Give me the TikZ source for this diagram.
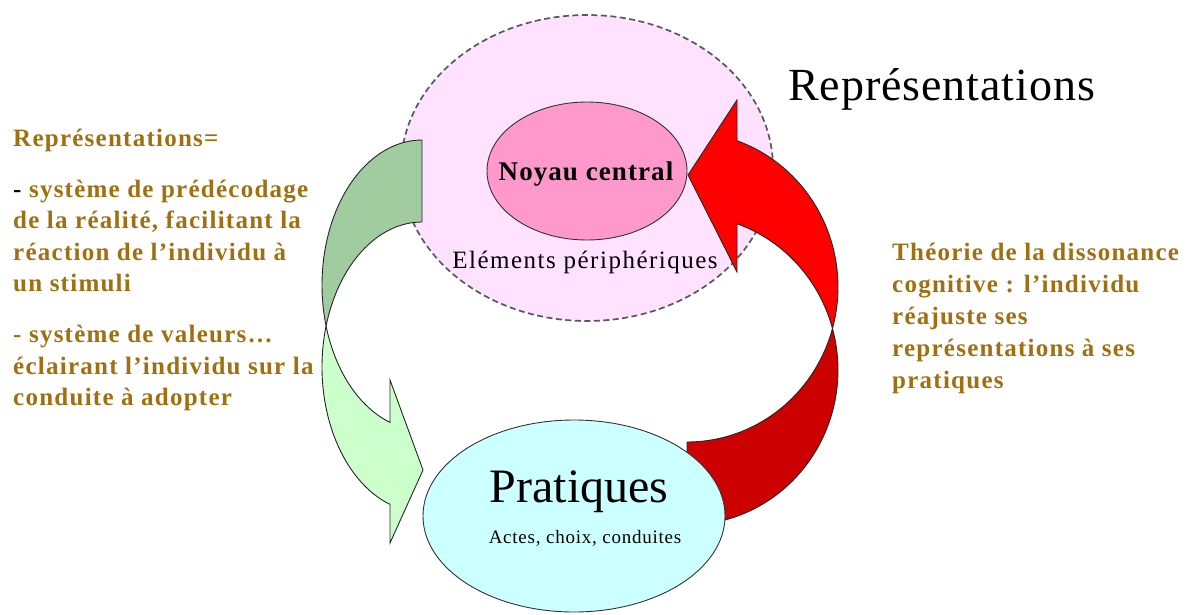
\documentclass[tikz,border=0pt]{standalone}
\usepackage{fontspec}
\setmainfont{Liberation Serif}
\usetikzlibrary{shapes.geometric}
\definecolor{pinkbg}{RGB}{255,226,255}
\definecolor{noyaupink}{RGB}{255,153,204}
\definecolor{cyanbg}{RGB}{204,255,255}
\definecolor{gdark}{RGB}{160,204,160}
\definecolor{glight}{RGB}{204,255,204}
\definecolor{rbright}{RGB}{255,0,0}
\definecolor{rdark}{RGB}{204,0,0}
\definecolor{txtbrown}{RGB}{160,112,16}
\tikzset{
  btxt/.style={anchor=base west, inner sep=0pt, text=txtbrown,
    font=\fontsize{25}{30}\selectfont\bfseries\addfontfeature{LetterSpace=5}},
  arrowshape/.style={draw=black!85, line width=0.9pt, line join=miter},
  ctxt/.style={anchor=base, inner sep=0pt},
}
\begin{document}
\begin{tikzpicture}[x=1pt,y=-1pt]
\useasboundingbox (0,0) rectangle (1186,614);
\fill[white] (0,0) rectangle (1186,614);

% Representations ellipse
\node[ellipse, minimum width=372pt, minimum height=306pt, fill=pinkbg,
  draw=black!65, line width=1.7pt, dash pattern=on 6pt off 3.5pt] (rep) at (587,168) {};
\node[ellipse, minimum width=200pt, minimum height=138pt, fill=noyaupink,
  draw=black!80, line width=0.9pt] (noyau) at (587,171) {};
\node[ctxt, font=\fontsize{27}{30}\selectfont\bfseries\addfontfeature{LetterSpace=4}] (noyautxt) at (586,180) {Noyau central};
\node[ctxt, font=\fontsize{25}{30}\selectfont\addfontfeature{LetterSpace=6}] (periph) at (585,268) {Eléments périphériques};

% green arrow: dark band
\path[arrowshape, fill=gdark]
  plot[domain=-90:-196.43, samples=60, variable=\t] ({422+100*cos(\t)},{285+145*sin(\t)})
  -- plot[domain=-163.57:-90, samples=60, variable=\t] ({422+100*cos(\t)},{367+145*sin(\t)})
  -- cycle;
% green arrow: light band with head
\path[arrowshape, fill=glight]
  plot[domain=-163.57:-251.34, samples=60, variable=\t] ({422+100*cos(\t)},{367+145*sin(\t)})
  -- (390,543) -- (423,470) -- (390,380) -- (390,422.3)
  -- plot[domain=-251.34:-196.43, samples=60, variable=\t] ({422+100*cos(\t)},{285+145*sin(\t)})
  -- cycle;

% red arrow: dark band
\path[arrowshape, fill=rdark]
  plot[domain=-15.53:90, samples=60, variable=\t] ({687+151*cos(\t)},{370+155*sin(\t)})
  -- plot[domain=90:15.53, samples=60, variable=\t] ({687+151*cos(\t)},{287+155*sin(\t)})
  -- cycle;
% red arrow: bright band with head
\path[arrowshape, fill=rbright]
  plot[domain=15.53:-70.66, samples=60, variable=\t] ({687+151*cos(\t)},{287+155*sin(\t)})
  -- (737,100) -- (688,175) -- (737,272) -- (737,223.7)
  -- plot[domain=-70.66:-15.53, samples=60, variable=\t] ({687+151*cos(\t)},{370+155*sin(\t)})
  -- cycle;

% Pratiques ellipse
\node[ellipse, minimum width=302pt, minimum height=192pt, fill=cyanbg,
  draw=black!80, line width=0.9pt] (prat) at (574,516) {};
\node[ctxt, font=\fontsize{48}{52}\selectfont] (prattxt) at (579,502) {Pratiques};
\node[ctxt, font=\fontsize{19}{22}\selectfont\addfontfeature{LetterSpace=4}] (actes) at (585,543) {Actes, choix, conduites};

% title
\node[anchor=base west, inner sep=0pt, font=\fontsize{46}{50}\selectfont\addfontfeature{LetterSpace=2}] (title) at (788,100) {Représentations};

% left text
\node[btxt] (l1) at (13,146.5) {Représentations=};
\node[btxt] (l2) at (13,197) {\textcolor{black}{-} système de prédécodage};
\node[btxt] (l3) at (13,228.5) {de la réalité, facilitant la};
\node[btxt] (l4) at (13,260) {réaction de l’individu à};
\node[btxt] (l5) at (13,291.5) {un stimuli};
\node[btxt] (l6) at (13,342.5) {- système de valeurs…};
\node[btxt] (l7) at (13,374) {éclairant l’individu sur la};
\node[btxt] (l8) at (13,405.5) {conduite à adopter};

% right text
\node[btxt] (r1) at (892,260) {Théorie de la dissonance};
\node[btxt] (r2) at (892,292) {cognitive : l’individu};
\node[btxt] (r3) at (892,324) {réajuste ses};
\node[btxt] (r4) at (892,356) {représentations à ses};
\node[btxt] (r5) at (892,388) {pratiques};
\end{tikzpicture}
\end{document}
